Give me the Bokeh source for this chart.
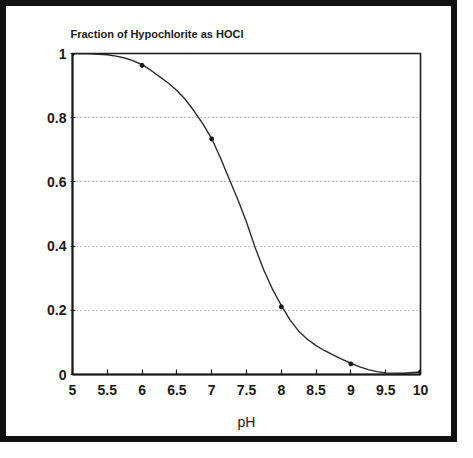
from bokeh.plotting import figure
from bokeh.models import Range1d, FixedTicker, NumeralTickFormatter, Title
from bokeh.embed import file_html
from bokeh.resources import INLINE

# Data
ph = [5.0, 5.25, 5.5, 5.625, 5.75, 5.875, 6.0, 6.125, 6.25, 6.375, 6.5, 6.625, 6.75, 6.875,
      7.0, 7.125, 7.25, 7.375, 7.5, 7.625, 7.75, 7.875, 8.0, 8.125, 8.25, 8.375, 8.5,
      8.625, 8.75, 8.875, 9.0, 9.125, 9.25, 9.375, 9.5, 9.75, 10.0]
fraction_hocl = [1.0, 0.999, 0.996, 0.992, 0.986, 0.977, 0.965, 0.948, 0.928, 0.908, 0.885,
                 0.856, 0.82, 0.78, 0.735, 0.675, 0.61, 0.545, 0.475, 0.395, 0.325, 0.265,
                 0.215, 0.17, 0.135, 0.11, 0.09, 0.074, 0.06, 0.047, 0.035, 0.024, 0.015,
                 0.009, 0.005, 0.004, 0.008]
marker_ph = [5, 6, 7, 8, 9, 10]
marker_fraction = [1.0, 0.963, 0.734, 0.211, 0.033, 0.008]
x_ticks = [5, 5.5, 6, 6.5, 7, 7.5, 8, 8.5, 9, 9.5, 10]
y_ticks = [0, 0.2, 0.4, 0.6, 0.8, 1]
grid_ticks = [0.2, 0.4, 0.6, 0.8]
title_text = "Fraction of Hypochlorite as HOCl"
x_label = "pH"

W, H = 457, 442
p = figure(width=W, height=H, output_backend="svg", toolbar_location=None,
           x_range=Range1d(5, 10), y_range=Range1d(0, 1),
           min_border_left=66, min_border_right=43, min_border_top=47, min_border_bottom=74)
p.styles = {"border": "6px solid #111111"}
p.background_fill_color = "white"
p.border_fill_color = "white"
p.outline_line_color = "#1a1a1a"
p.outline_line_width = 1.6

p.line(ph, fraction_hocl, line_color="#2a2a2a", line_width=1.4)
p.scatter(marker_ph, marker_fraction, size=4, color="#1a1a1a")

# axes
for ax in (p.xaxis[0], p.yaxis[0]):
    ax.axis_line_color = "#1a1a1a"
    ax.axis_line_width = 2
    ax.major_tick_line_color = "#1a1a1a"
    ax.major_tick_line_width = 1.2
    ax.minor_tick_line_color = None
    ax.major_label_text_font = "Liberation Sans"
    ax.major_label_text_font_style = "bold"
    ax.major_label_text_font_size = "14px"
    ax.major_label_text_color = "#1a1a1a"
    ax.formatter = NumeralTickFormatter(format="0.[0]")

p.xaxis.ticker = FixedTicker(ticks=x_ticks)
p.yaxis.ticker = FixedTicker(ticks=y_ticks)
p.xaxis.major_tick_in = 5
p.xaxis.major_tick_out = 0
p.xaxis.major_label_standoff = 10
p.yaxis.major_tick_in = 3
p.yaxis.major_tick_out = 2
p.yaxis.major_label_standoff = 4

p.xaxis.axis_label = x_label
p.xaxis.axis_label_text_font = "Liberation Sans"
p.xaxis.axis_label_text_font_style = "normal"
p.xaxis.axis_label_text_font_size = "14px"
p.xaxis.axis_label_text_color = "#1a1a1a"
p.xaxis.axis_label_standoff = 16

p.xgrid.visible = False
p.ygrid.ticker = FixedTicker(ticks=grid_ticks)
p.ygrid.grid_line_color = "#8a8a8a"
p.ygrid.grid_line_dash = "1 3"
p.ygrid.grid_line_width = 1

p.title = Title(text=title_text, align="left", offset=-2, standoff=27,
                text_font="Liberation Sans", text_font_style="bold",
                text_font_size="11px", text_color="#1a1a1a")

open("out.html", "w").write(file_html(p, INLINE))
